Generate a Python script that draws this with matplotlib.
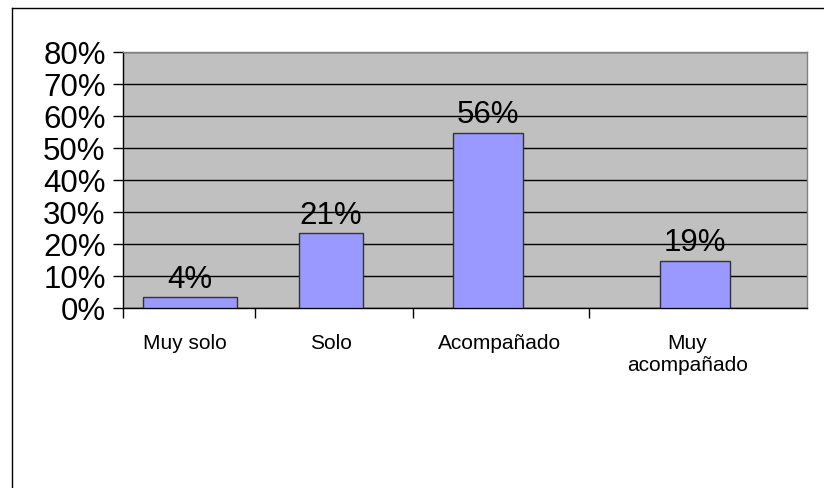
import matplotlib
matplotlib.use("Agg")
import matplotlib.pyplot as plt
from matplotlib.lines import Line2D
from matplotlib.ticker import FuncFormatter, FixedLocator

# ---- data ----
categories = ["Muy solo", "Solo", "Acompañado", "Muy\nacompañado"]
bar_values = [3.3, 23.3, 54.8, 14.8]          # bar heights (%) as drawn
value_labels = ["4%", "21%", "56%", "19%"]     # data labels shown
y_ticks = [0, 10, 20, 30, 40, 50, 60, 70, 80]

# ---- layout (category-axis units; plot spans 0..4) ----
bar_centers = [0.392, 1.216, 2.135, 3.345]
bar_widths = [0.55, 0.374, 0.41, 0.41]
label_centers = [0.36, 1.216, 2.2, 3.30]
slot_edges = [0, 0.772, 1.696, 2.725]

plt.rcParams["font.family"] = ["Liberation Sans", "DejaVu Sans"]

fig = plt.figure(figsize=(8.24, 4.88), dpi=100)
fig.patch.set_facecolor("white")
ax = fig.add_axes([123 / 824, 1 - 308 / 488, 684 / 824, 256 / 488])
ax.set_facecolor("#C0C0C0")

ax.bar(bar_centers, bar_values, width=bar_widths, color="#9999FF",
       edgecolor="#333333", linewidth=1.0, zorder=3)

for x, v, t in zip(bar_centers, bar_values, value_labels):
    ax.annotate(t, (x, v), xytext=(0, 2), textcoords="offset points",
                ha="center", va="bottom", fontsize=22.5, color="black", zorder=4)

ax.set_xlim(0, 4)
ax.set_ylim(0, 80)
ax.set_yticks(y_ticks)
ax.yaxis.set_major_formatter(FuncFormatter(lambda v, p: f"{v:.0f}%"))
ax.tick_params(axis="y", direction="out", length=7.5, width=1, pad=5,
               labelsize=22.5, colors="black")
for lab in ax.get_yticklabels():
    lab.set_verticalalignment("center_baseline")
ax.yaxis.grid(True, color="black", linewidth=1.0, zorder=1)
ax.set_axisbelow(True)

ax.xaxis.set_major_locator(FixedLocator(slot_edges))
ax.xaxis.set_minor_locator(FixedLocator(label_centers))
ax.xaxis.set_major_formatter(FuncFormatter(lambda v, p: ""))
ax.set_xticklabels(categories, minor=True)
ax.tick_params(axis="x", which="major", direction="out", length=7, width=1,
               color="black")
ax.tick_params(axis="x", which="minor", length=0, pad=19, labelsize=15)
for lab in ax.get_xticklabels(minor=True):
    lab.set_multialignment("center")

for s in ("left", "bottom"):
    ax.spines[s].set_color("black")
    ax.spines[s].set_linewidth(1.0)
for s in ("top", "right"):
    ax.spines[s].set_color("#808080")
    ax.spines[s].set_linewidth(1.0)

# outer chart frame (partially visible, left and top)
fx = 11.5 / 824
fy = 1 - 7.5 / 488
fig.add_artist(Line2D([fx, fx], [0, fy], transform=fig.transFigure,
                      color="black", linewidth=1.0))
fig.add_artist(Line2D([fx, 1], [fy, fy], transform=fig.transFigure,
                      color="black", linewidth=1.0))

fig.savefig("out.png", dpi=100, facecolor="white")
